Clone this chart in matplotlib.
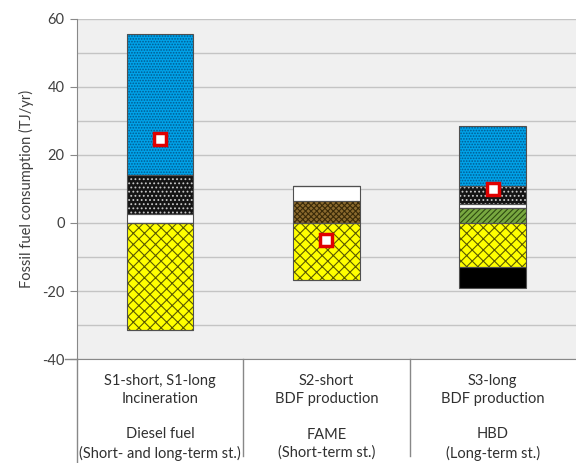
"""Fossil fuel consumption by scenario: stacked bars with net markers."""

import matplotlib
matplotlib.use("Agg")
import matplotlib.pyplot as plt
import numpy as np

plt.rcParams["font.family"] = ["Lato", "DejaVu Sans"]
plt.rcParams["hatch.linewidth"] = 0.8
plt.rcParams["axes.unicode_minus"] = False

scenarios = ["S1-short, S1-long\nIncineration", "S2-short\nBDF production", "S3-long\nBDF production"]
fuels = ["Diesel fuel\n(Short- and long-term st.)", "FAME\n(Short-term st.)", "HBD\n(Long-term st.)"]

# stacked segments per scenario, bottom to top (TJ/yr)
seg_yellow = [-31.4, -16.8, -13.0]
seg_black = [0.0, 0.0, -6.0]
seg_green = [0.0, 0.0, 4.5]
seg_brown = [0.0, 6.6, 0.0]
seg_white = [2.6, 4.4, 1.1]
seg_dotted = [11.5, 0.0, 5.3]
seg_blue = [41.5, 0.0, 17.7]
net_total = [24.7, -5.0, 10.0]

# (values, face, hatch, hatch colour)
neg_layers = [
    (seg_yellow, "#ffff00", "xxx", "#5a5a00"),
    (seg_black, "#000000", None, "#000000"),
]
pos_layers = [
    (seg_green, "#78a840", "//////", "#2e4a10"),
    (seg_brown, "#8b6a2e", "xxxxxx", "#3a2a08"),
    (seg_white, "#ffffff", None, "#ffffff"),
    (seg_dotted, "#141414", "....", "#c8c8c8"),
    (seg_blue, "#00a2e8", "......", "#005a90"),
]

fig = plt.figure(figsize=(5.76, 4.63), dpi=100)
ax = fig.add_axes([0.1337, 0.2246, 0.866, 0.7344])
ax.set_facecolor("#f0f0f0")

x = np.arange(len(scenarios))
width = 0.4


def draw_layer(vals, bottom, face, hatch, hcol):
    ax.bar(x, vals, width, bottom=bottom, color=face, edgecolor=hcol,
           hatch=hatch, linewidth=0, zorder=2)
    ax.bar(x, vals, width, bottom=bottom, fill=False, edgecolor="#505050",
           linewidth=0.8, zorder=3)


neg_bottom = np.zeros(len(x))
for vals, face, hatch, hcol in neg_layers:
    v = np.array(vals)
    draw_layer(v, neg_bottom, face, hatch, hcol)
    neg_bottom = neg_bottom + v

pos_bottom = np.zeros(len(x))
for vals, face, hatch, hcol in pos_layers:
    v = np.array(vals)
    draw_layer(v, pos_bottom, face, hatch, hcol)
    pos_bottom = pos_bottom + v

ax.plot(x, net_total, linestyle="none", marker="s", markersize=8,
        markerfacecolor="white", markeredgecolor="#e00000",
        markeredgewidth=2.5, zorder=5)

ax.set_xlim(-0.5, 2.5)
ax.set_ylim(-40, 60)
ax.set_yticks(np.arange(-40, 61, 20))
ax.set_yticks(np.arange(-40, 61, 10), minor=True)
ax.tick_params(axis="y", which="major", length=5, color="#888888",
               labelsize=10.5, labelcolor="#404040", pad=4)
ax.tick_params(axis="y", which="minor", length=0)
ax.set_xticks([])
ax.grid(axis="y", which="both", color="#c4c4c4", linewidth=1, zorder=0)
ax.set_axisbelow(True)
ax.set_ylabel("Fossil fuel consumption (TJ/yr)", fontsize=10.5,
              color="#404040", labelpad=6)

for side in ["top", "right"]:
    ax.spines[side].set_visible(False)
ax.spines["left"].set_color("#888888")
ax.spines["bottom"].set_color("#888888")

# category table below the axis
ax.plot([0, 0], [0, -0.31], transform=ax.transAxes, color="#888888",
        linewidth=1, clip_on=False)
ax.plot([-0.025, 0], [0, 0], transform=ax.transAxes, color="#888888",
        linewidth=1, clip_on=False)
for sep in [1 / 3, 2 / 3]:
    ax.plot([sep, sep], [0, -0.285], transform=ax.transAxes, color="#888888",
            linewidth=1, clip_on=False)

trans = ax.get_xaxis_transform()
for i in range(len(x)):
    ax.text(x[i], -0.09, scenarios[i], transform=trans, ha="center",
            va="center", fontsize=10.5, color="#303030", linespacing=1.35)
    ax.text(x[i], -0.25, fuels[i], transform=trans, ha="center",
            va="center", fontsize=10.5, color="#303030", linespacing=1.35)

fig.savefig("out.png", dpi=100)
plt.close(fig)
